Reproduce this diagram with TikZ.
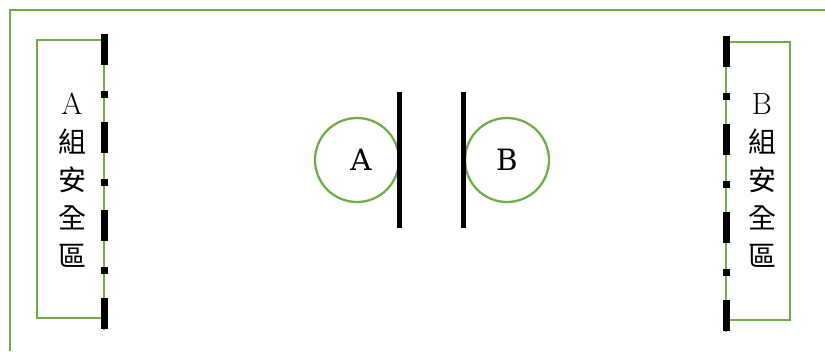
\documentclass[tikz,border=0pt]{standalone}
\usepackage{fontspec}
\newfontfamily\cjk{Noto Sans CJK TC}
\newfontfamily\letterfont{DejaVu Serif}
\definecolor{zonegreen}{HTML}{70AD47}
\begin{document}
\begin{tikzpicture}[
  x=0.75pt, y=-0.75pt,
  zone/.style={draw=zonegreen, line width=1.7pt},
  rope/.style={line width=5.25pt, black, line cap=butt,
    dash pattern=on 23.25pt off 19.5pt on 5.25pt off 18pt},
  wall/.style={line width=3.75pt, black},
  player/.style={circle, draw=zonegreen, line width=1.7pt, minimum size=63pt,
    inner sep=0pt, font=\letterfont\fontsize{22}{22}\selectfont},
  label/.style={align=center, font=\fontsize{21}{28.5}\selectfont}
]
  \useasboundingbox (0,0) rectangle (825,351);
  % field border
  \draw[zone] (10,351) |- (825,10);

  % safe zone A
  \coordinate (ropeAtop) at (104,34);
  \coordinate (ropeAbot) at (104,330);
  \draw[zone] (104,40) -| (37,318) -- (104,318);
  \draw[zone] (ropeAtop) -- (ropeAbot);
  \draw[rope] (ropeAtop) -- (ropeAbot);
  \node[label] (zoneA) at (72,180) {{\fontsize{23}{28.5}\selectfont A}\\{\cjk 組}\\{\cjk 安}\\{\cjk 全}\\{\cjk 區}};

  % safe zone B
  \coordinate (ropeBtop) at (726,36);
  \coordinate (ropeBbot) at (726,332);
  \draw[zone] (726,42) -| (790,320) -- (726,320);
  \draw[zone] (ropeBtop) -- (ropeBbot);
  \draw[rope] (ropeBtop) -- (ropeBbot);
  \node[label] (zoneB) at (762,180) {{\fontsize{23}{28.5}\selectfont B}\\{\cjk 組}\\{\cjk 安}\\{\cjk 全}\\{\cjk 區}};

  % players at the centre
  \node[player] (playerA) at (357,160) {\hspace{6pt}A};
  \node[player] (playerB) at (507,160) {B};
  \coordinate (wallAtop) at (399,92);
  \coordinate (wallAbot) at (399,228);
  \coordinate (wallBtop) at (463,92);
  \coordinate (wallBbot) at (463,228);
  \draw[wall] (wallAtop) -- (wallAbot);
  \draw[wall] (wallBtop) -- (wallBbot);
\end{tikzpicture}
\end{document}
